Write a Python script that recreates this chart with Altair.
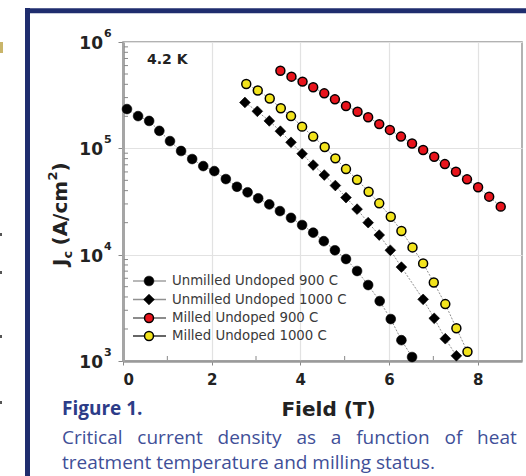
import altair as alt
import pandas as pd

# ---------------- data ----------------
series_names = [
    "Unmilled Undoped 900 C",
    "Unmilled Undoped 1000 C",
    "Milled Undoped 900 C",
    "Milled Undoped 1000 C",
]

field_unmilled_900 = [0.09, 0.34, 0.59, 0.82, 1.06, 1.31, 1.56, 1.81, 2.06, 2.32, 2.57, 2.81,
                      3.05, 3.30, 3.54, 3.79, 4.04, 4.29, 4.53, 4.78, 5.03, 5.28, 5.53, 5.79,
                      6.04, 6.28, 6.52]
jc_unmilled_900 = [234000, 201000, 181000, 146000, 117000, 94400, 79300, 68100, 61100, 51400,
                   43500, 38600, 33900, 29700, 25700, 22200, 19000, 16100, 13400, 11000, 9100,
                   7020, 5180, 3660, 2480, 1570, 1090]

field_unmilled_1000 = [2.75, 3.03, 3.30, 3.55, 3.79, 4.04, 4.29, 4.54, 4.79, 5.03, 5.28, 5.53,
                       5.78, 6.03, 6.28, 6.77, 7.02, 7.27, 7.52]
jc_unmilled_1000 = [270000, 223000, 181000, 145000, 114000, 88900, 69600, 56100, 44700, 34400,
                    26800, 20000, 15300, 11000, 7640, 3800, 2520, 1620, 1120]

field_milled_900 = [3.55, 3.80, 4.05, 4.29, 4.54, 4.78, 5.03, 5.29, 5.53, 5.78, 6.02, 6.27,
                    6.52, 6.77, 7.02, 7.26, 7.51, 7.76, 8.01, 8.26, 8.52]
jc_milled_900 = [537000, 472000, 424000, 375000, 329000, 289000, 250000, 221000, 196000, 169000,
                 149000, 129000, 111000, 96400, 83400, 71100, 60300, 51100, 43000, 35100, 28300]

field_milled_1000 = [2.78, 3.04, 3.31, 3.56, 3.79, 4.04, 4.29, 4.55, 4.79, 5.03, 5.28, 5.54,
                     5.78, 6.04, 6.28, 6.53, 6.77, 7.01, 7.27, 7.52, 7.77]
jc_milled_1000 = [403000, 350000, 294000, 238000, 201000, 160000, 129000, 103000, 80500, 63800,
                  50700, 39100, 30400, 22700, 16700, 11700, 8280, 5470, 3430, 2030, 1220]

x_tick_values = [0, 2, 4, 6, 8]
x_minor_ticks = [1, 3, 5, 7]
y_tick_values = [1e3, 1e4, 1e5, 1e6]
y_tick_base = ["10", "10", "10", "10"]
y_tick_exponents = ["3", "4", "5", "6"]
y_minor_ticks = [2e3, 3e3, 4e3, 5e3, 6e3, 7e3, 8e3, 9e3,
                 2e4, 3e4, 4e4, 5e4, 6e4, 7e4, 8e4, 9e4,
                 2e5, 3e5, 4e5, 5e5, 6e5, 7e5, 8e5, 9e5]

temperature_label = "4.2 K"
x_title = "Field (T)"
y_title_parts = ["J", "c", "(A/cm", "2", ")"]
figure_label = "Figure 1."
caption_line1 = "Critical current density as a function of heat"
caption_line2 = "treatment temperature and milling status."

# ---------------- layout / style ----------------
W, H = 399, 319
PAD = {"left": 123, "top": 42, "right": 4, "bottom": 115}
BOLD = "DejaVu Sans"
NAVY = "#1f2d6e"

series_shapes = ["circle", "diamond", "circle", "circle"]
series_fills = ["#000000", "#000000", "#e8141c", "#f2e31c"]
series_sizes = [95, 115, 80, 80]
series_strokew = [0.6, 0.6, 1.5, 1.5]
legend_line_colors = ["#a0a0a0", "#909090", "#666666", "#333333"]

frames = []
for name, xs, ys in zip(series_names,
                        [field_unmilled_900, field_unmilled_1000, field_milled_900, field_milled_1000],
                        [jc_unmilled_900, jc_unmilled_1000, jc_milled_900, jc_milled_1000]):
    frames.append(pd.DataFrame({"series": name, "field": xs, "jc": ys}))
df = pd.concat(frames, ignore_index=True)

xsc = alt.Scale(domain=[0, 9], nice=False, zero=False)
ysc = alt.Scale(type="log", domain=[1e3, 1e6], nice=False)

one = pd.DataFrame({"k": [0]})
layers = []

# base layer with axes: connecting lines
lines = alt.Chart(df).mark_line(color="#8f8f8f", strokeWidth=1, strokeDash=[2, 1.5]).encode(
    x=alt.X("field:Q", scale=xsc, axis=alt.Axis(
        values=x_tick_values, title=x_title, labelFont=BOLD, labelFontWeight="bold",
        labelFontSize=15, labelColor="#222222", labelPadding=7, tickSize=4, tickColor="#888888",
        domainColor="#9a9a9a", domainWidth=2.5, grid=True, gridColor="#e2e2e2", gridWidth=1.2,
        titleFont=BOLD, titleFontWeight="bold", titleFontSize=20, titleColor="#222222",
        titleX=205, titleY=54, titleBaseline="alphabetic", titleAlign="center")),
    y=alt.Y("jc:Q", scale=ysc, axis=alt.Axis(
        values=y_tick_values, labels=False, title=None, tickSize=5, tickColor="#888888",
        domainColor="#a5a5a5", domainWidth=3, grid=True, gridColor="#e2e2e2", gridWidth=1.2)),
    detail="series:N",
)
layers.append(lines)

# minor ticks
ymin_df = pd.DataFrame({"jc": y_minor_ticks})
layers.append(alt.Chart(ymin_df).mark_rule(color="#888888", strokeWidth=1).encode(
    x=alt.value(1), x2=alt.value(5), y=alt.Y("jc:Q", scale=ysc)))
xmin_df = pd.DataFrame({"field": x_minor_ticks})
layers.append(alt.Chart(xmin_df).mark_rule(color="#888888", strokeWidth=1).encode(
    x=alt.X("field:Q", scale=xsc), y=alt.value(H - 1), y2=alt.value(H - 5)))

# points per series
for name, shp, fill, size, sw in zip(series_names, series_shapes, series_fills, series_sizes, series_strokew):
    layers.append(alt.Chart(df).transform_filter(alt.datum.series == name).mark_point(
        shape=shp, filled=True, fill=fill, stroke="#000000", strokeWidth=sw, size=size, opacity=1
    ).encode(x=alt.X("field:Q", scale=xsc), y=alt.Y("jc:Q", scale=ysc)))

# y tick labels (10 with superscript exponent)
ytl = pd.DataFrame({"jc": y_tick_values, "base": y_tick_base, "exp": y_tick_exponents})
layers.append(alt.Chart(ytl).mark_text(font=BOLD, fontWeight="bold", fontSize=17, align="right",
                                       baseline="middle", dy=2, color="#222222").encode(
    x=alt.value(-20), y=alt.Y("jc:Q", scale=ysc), text="base:N"))
layers.append(alt.Chart(ytl).mark_text(font=BOLD, fontWeight="bold", fontSize=11, align="left",
                                       baseline="alphabetic", dy=-5, color="#222222").encode(
    x=alt.value(-19), y=alt.Y("jc:Q", scale=ysc), text="exp:N"))

# y title composed of pieces, rotated (reads bottom to top)
ypos = [(-56, 224, 20), (-51, 216.6, 13), (-56, 203.5, 20), (-66, 138.5, 13), (-56, 129.5, 20)]
for part, (px, py, fs) in zip(y_title_parts, ypos):
    layers.append(alt.Chart(pd.DataFrame({"t": [part]})).mark_text(
        font=BOLD, fontWeight="bold", fontSize=fs, angle=270, align="left",
        baseline="alphabetic", color="#222222").encode(
        x=alt.value(px), y=alt.value(py), text="t:N"))

# temperature annotation
layers.append(alt.Chart(pd.DataFrame({"t": [temperature_label]})).mark_text(
    font=BOLD, fontWeight="bold", fontSize=14, align="left", baseline="alphabetic",
    color="#222222").encode(x=alt.value(24), y=alt.value(22), text="t:N"))

# legend
leg_y = [239, 257.5, 276, 294]
for name, shp, fill, size, sw, lc, ly in zip(series_names, series_shapes, series_fills,
                                             series_sizes, series_strokew, legend_line_colors, leg_y):
    d = pd.DataFrame({"t": [name]})
    layers.append(alt.Chart(d).mark_rule(color=lc, strokeWidth=1.6).encode(
        x=alt.value(10), x2=alt.value(43), y=alt.value(ly)))
    layers.append(alt.Chart(d).mark_point(shape=shp, filled=True, fill=fill, stroke="#000000",
                                          strokeWidth=sw, size=size, opacity=1).encode(
        x=alt.value(26), y=alt.value(ly)))
    layers.append(alt.Chart(d).mark_text(font="DejaVu Sans", fontSize=13.3, align="left",
                                         baseline="middle", color="#3a3a3a").encode(
        x=alt.value(49), y=alt.value(ly), text="t:N"))

# page frame (navy bars) and margin marks
layers.append(alt.Chart(one).mark_rule(color=NAVY, strokeWidth=5).encode(
    x=alt.value(-95.5), y=alt.value(-34), y2=alt.value(434)))
layers.append(alt.Chart(one).mark_rule(color=NAVY, strokeWidth=5).encode(
    x=alt.value(-98), x2=alt.value(403), y=alt.value(-31.3)))
layers.append(alt.Chart(one).mark_rect(color="#c9b56a").encode(
    x=alt.value(-123), x2=alt.value(-120), y=alt.value(0), y2=alt.value(11)))
for my in [191, 229, 293, 359]:
    layers.append(alt.Chart(one).mark_rect(color="#555555").encode(
        x=alt.value(-123), x2=alt.value(-121), y=alt.value(my), y2=alt.value(my + 3)))

# caption (first line justified with wider, non-collapsing spaces)
layers.append(alt.Chart(pd.DataFrame({"t": [figure_label]})).mark_text(
    font="Open Sans", fontWeight="bold", fontSize=19, align="left", baseline="alphabetic",
    color="#2c3c88").encode(x=alt.value(-61), y=alt.value(373), text="t:N"))
line1_text = "\u00a0\u00a0\u00a0".join(caption_line1.split())
layers.append(alt.Chart(pd.DataFrame({"t": [line1_text]})).mark_text(
    font="Open Sans", fontSize=19, align="left", baseline="alphabetic",
    color="#3f4f98").encode(x=alt.value(-61), y=alt.value(402), text="t:N"))
layers.append(alt.Chart(pd.DataFrame({"t": [caption_line2]})).mark_text(
    font="Open Sans", fontSize=19, align="left", baseline="alphabetic",
    color="#3f4f98").encode(x=alt.value(-61), y=alt.value(427), text="t:N"))

chart = alt.layer(*layers).properties(
    width=W, height=H, padding=PAD,
    autosize=alt.AutoSizeParams(type="none"),
    background="white",
).configure_view(stroke="#999999", strokeWidth=1.5)

chart.save("out.html", embed_options={"renderer": "svg", "actions": False})
